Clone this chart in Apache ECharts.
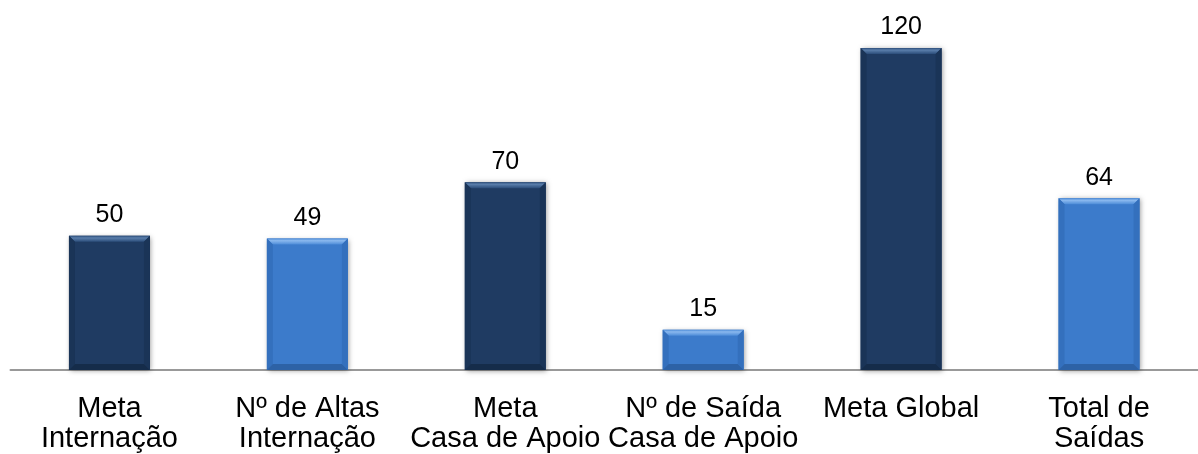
<!DOCTYPE html>
<html><head><meta charset="utf-8">
<script src="https://cdn.jsdelivr.net/npm/echarts@6/dist/echarts.min.js"></script>
<style>html,body{margin:0;padding:0;background:#fff}#c{width:1198px;height:454px}</style>
</head><body><div id="c"></div>
<script>
const categories = ["Meta\nInternação","Nº de Altas\nInternação","Meta\nCasa de Apoio","Nº de Saída\nCasa de Apoio","Meta Global","Total de\nSaídas"];
const values = [50,49,70,15,120,64];
const kinds = ["meta","real","meta","real","meta","real"];

const palette = {
  meta: {base:'#1f3b62', topA:'#5a7eab', topB:'#2b4d7a', side:'#1a3457', bottom:'#152c4a'},
  real: {base:'#3c7bcb', topA:'#8ab8ee', topB:'#4d8cd8', side:'#3470bd', bottom:'#2d62a6'}
};
const BW = 81, BV = 6;
const FONT = 'Liberation Sans, Arial, sans-serif';

function renderBar(params, api){
  const i = api.value(0), v = api.value(1);
  const t = api.coord([i, v]), b = api.coord([i, 0]);
  const x0 = t[0] - BW/2, x1 = t[0] + BW/2, y0 = t[1], y1 = b[1];
  const p = palette[kinds[params.dataIndex]];
  return {type:'group', children:[
    {type:'rect', shape:{x:x0,y:y0,width:BW,height:y1-y0},
      style:{fill:p.base, shadowColor:'rgba(0,0,0,0.4)', shadowBlur:5, shadowOffsetX:1, shadowOffsetY:1}},
    {type:'polygon', shape:{points:[[x0,y0],[x1,y0],[x1-BV,y0+BV],[x0+BV,y0+BV]]},
      style:{fill:{type:'linear',x:0,y:0,x2:0,y2:1,colorStops:[{offset:0,color:p.topB},{offset:0.35,color:p.topA},{offset:1,color:p.topB}]}}},
    {type:'polygon', shape:{points:[[x0,y0],[x0+BV,y0+BV],[x0+BV,y1-BV],[x0,y1]]}, style:{fill:p.side}},
    {type:'polygon', shape:{points:[[x1,y0],[x1-BV,y0+BV],[x1-BV,y1-BV],[x1,y1]]}, style:{fill:p.side}},
    {type:'polygon', shape:{points:[[x0,y1],[x0+BV,y1-BV],[x1-BV,y1-BV],[x1,y1]]}, style:{fill:p.bottom}},
    {type:'text', style:{text:String(v), x:t[0], y:y0-8, align:'center', verticalAlign:'bottom',
      fontSize:25, fontFamily:FONT, fill:'#000'}}
  ]};
}

const chart = echarts.init(document.getElementById('c'));
chart.setOption({
  animation:false,
  grid:{left:10.5,width:1200,top:48,bottom:84,containLabel:false},
  xAxis:{type:'category',data:categories,
    axisLine:{lineStyle:{color:'#999',width:2}},axisTick:{show:false},
    axisLabel:{color:'#000',fontSize:29,fontFamily:FONT,lineHeight:30,margin:24,interval:0}},
  yAxis:{type:'value',min:0,max:120,show:false,splitLine:{show:false}},
  series:[{type:'custom',renderItem:renderBar,
    data:values.map((v,i)=>[i,v]), encode:{x:0,y:1}, z:3}]
});
</script></body></html>
